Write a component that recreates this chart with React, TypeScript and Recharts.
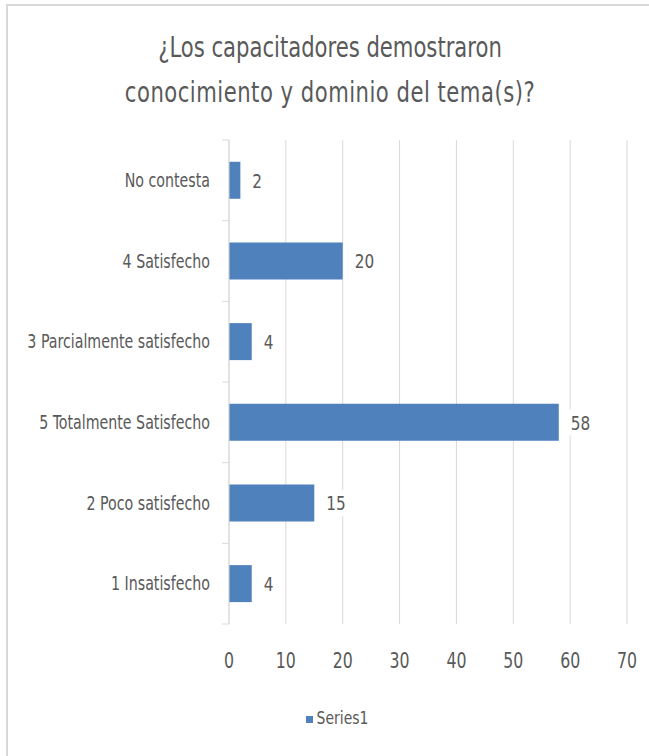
import React from 'react';
import { BarChart, Bar, XAxis, YAxis, CartesianGrid, Legend, LabelList } from 'recharts';

const categories = [
  'No contesta',
  '4 Satisfecho',
  '3 Parcialmente satisfecho',
  '5 Totalmente Satisfecho',
  '2 Poco satisfecho',
  '1 Insatisfecho',
];
const series1 = [2, 20, 4, 58, 15, 4];
const xTicks = [0, 10, 20, 30, 40, 50, 60, 70];

const data = categories.map((name, i) => ({ name, Series1: series1[i] }));

const FONT = "'Liberation Sans Narrow', 'Arial Narrow', 'DejaVu Sans Condensed', sans-serif";
const TEXT = '#595959';
const GRID = '#d9d9d9';
const BLUE = '#4f81bd';
const STRETCH = 1.18; // text in the reference is a bit taller than wide

const W = 649;
const H = 756;
const MARGIN = { top: 140, right: 22, bottom: 72, left: 0 };
const X_AXIS_H = 60;
const BAND = (H - MARGIN.top - MARGIN.bottom - X_AXIS_H) / categories.length;

const CategoryTick = (props: any) => {
  const { x, y, payload, index } = props;
  return (
    <g>
      <text
        transform={`translate(${x},${y}) scale(1,${STRETCH})`}
        dy="0.36em"
        textAnchor="end"
        fill={TEXT}
        fontSize={15.8}
        fontFamily={FONT}
      >
        {payload.value}
      </text>
      <line x1={x + 12} x2={x + 19} y1={y - BAND / 2} y2={y - BAND / 2} stroke={GRID} strokeWidth={1} />
      {index === categories.length - 1 && (
        <line x1={x + 12} x2={x + 19} y1={y + BAND / 2} y2={y + BAND / 2} stroke={GRID} strokeWidth={1} />
      )}
    </g>
  );
};

const ValueTick = (props: any) => {
  const { x, y, payload } = props;
  return (
    <text
      transform={`translate(${x},${y}) scale(1,${STRETCH})`}
      dy="0.71em"
      textAnchor="middle"
      fill={TEXT}
      fontSize={17.5}
      fontFamily={FONT}
    >
      {payload.value}
    </text>
  );
};

const ValueLabel = (props: any) => {
  const { x, y, width, height, value } = props;
  const tx = x + width + 12;
  const ty = y + height / 2;
  const w = String(value).length * 10.5 + 4;
  return (
    <g>
      <rect x={tx - 2} y={ty - 13} width={w} height={26} fill="#ffffff" />
      <text
        transform={`translate(${tx},${ty}) scale(1,${STRETCH})`}
        dy="0.36em"
        fill={TEXT}
        fontSize={17}
        fontFamily={FONT}
      >
        {value}
      </text>
    </g>
  );
};

export default function App() {
  return (
    <div
      style={{
        position: 'fixed',
        left: 0,
        top: 0,
        width: W,
        height: H,
        overflow: 'hidden',
        background: '#fff',
      }}
    >
      <div
        style={{
          position: 'absolute',
          left: 6,
          top: 4,
          width: 670,
          height: 790,
          border: `2px solid ${GRID}`,
          boxSizing: 'border-box',
        }}
      />
      <div
        style={{
          position: 'absolute',
          left: 0,
          top: 25,
          width: 660,
          textAlign: 'center',
          fontFamily: FONT,
          fontSize: 23.5,
          lineHeight: '38px',
          color: TEXT,
          transform: `scaleY(${STRETCH})`,
          transformOrigin: '50% 0',
        }}
      >
        ¿Los capacitadores demostraron
        <br />
        <span style={{ letterSpacing: '0.5px' }}>conocimiento y dominio del tema(s)?</span>
      </div>
      <div style={{ position: 'absolute', left: 0, top: 0 }}>
        <BarChart width={W} height={H} data={data} layout="vertical" margin={MARGIN} barCategoryGap="27%">
          <CartesianGrid horizontal={false} stroke={GRID} strokeWidth={1} />
          <XAxis
            type="number"
            domain={[0, 70]}
            ticks={xTicks}
            interval={0}
            height={X_AXIS_H}
            axisLine={false}
            tickLine={false}
            tickSize={6}
            tickMargin={23}
            tick={<ValueTick />}
          />
          <YAxis
            type="category"
            dataKey="name"
            width={229}
            axisLine={{ stroke: GRID, strokeWidth: 1 }}
            tickLine={false}
            tickSize={7}
            tickMargin={12}
            interval={0}
            tick={<CategoryTick />}
          />
          <Legend
            verticalAlign="middle"
            align="center"
            layout="horizontal"
            iconType="square"
            iconSize={7}
            wrapperStyle={{ top: 709, left: 0, width: 684 }}
            formatter={(value: string) => (
              <span
                style={{
                  color: TEXT,
                  fontSize: 15.5,
                  fontFamily: FONT,
                  display: 'inline-block',
                  transform: `scaleY(${STRETCH})`,
                }}
              >
                {value}
              </span>
            )}
          />
          <Bar dataKey="Series1" fill={BLUE} isAnimationActive={false}>
            <LabelList dataKey="Series1" content={<ValueLabel />} />
          </Bar>
        </BarChart>
      </div>
    </div>
  );
}
